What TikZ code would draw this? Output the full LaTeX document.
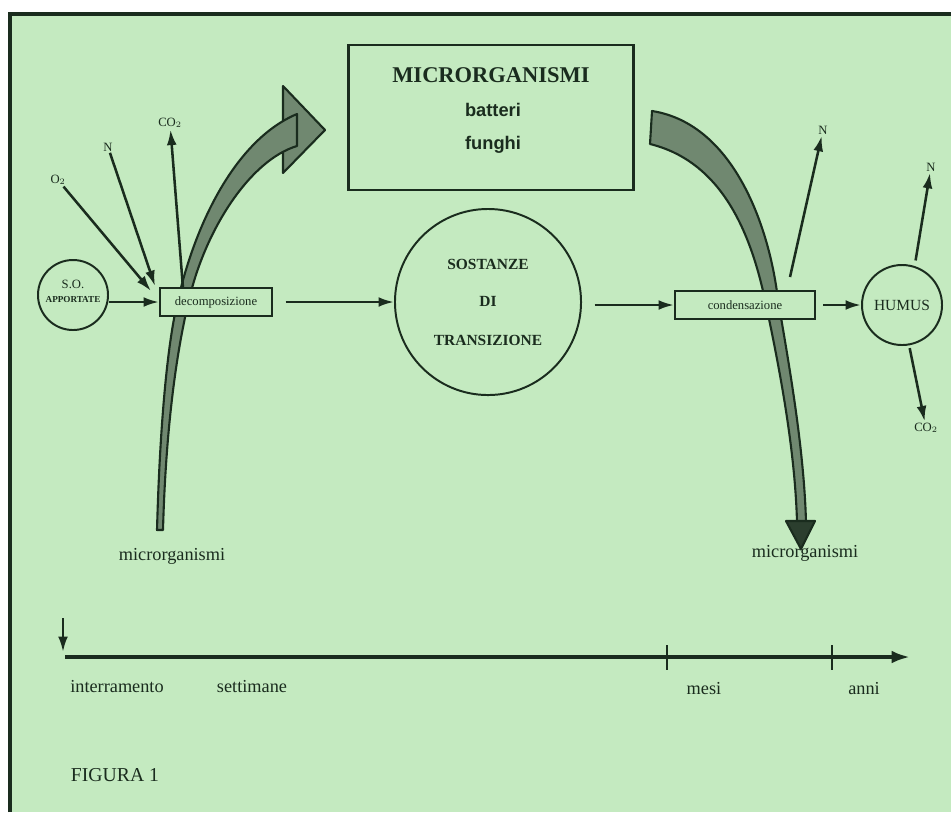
\documentclass[tikz,border=0pt]{standalone}
\usepackage{fontspec}
\setmainfont{Liberation Serif}
\newfontfamily\boldsans{Liberation Sans}
\usetikzlibrary{arrows.meta}

\definecolor{paper}{RGB}{196,234,192}
\definecolor{ink}{RGB}{26,44,30}
\definecolor{bandfill}{RGB}{112,136,112}

\tikzset{
  conn/.style={-{Latex[length=11pt,width=7pt]}, line width=1.8pt},
  procbox/.style={draw, fill=paper, line width=1.4pt, minimum width=2.8cm, minimum height=0.7cm, inner sep=1pt, font=\fontsize{9}{10}\selectfont},
  ring/.style={draw, circle, line width=1.4pt, inner sep=0pt},
  gas/.style={inner sep=1pt, font=\fontsize{9}{10}\selectfont},
  band/.style={fill=bandfill, draw=ink, line width=1.5pt, line join=round},
  timelab/.style={anchor=base, font=\fontsize{13}{14}\selectfont}
}

\begin{document}
\begin{tikzpicture}[x=0.025cm, y=-0.025cm, ink]
    \useasboundingbox (0,0) rectangle (951,812);
    \fill[white] (0,0) rectangle (951,812);
    \fill[paper] (10,14) rectangle (951,812);
    \draw[line width=2.2pt] (10,812) -- (10,14) -- (951,14);

    % left band arrow
    \draw[band] (283,86) -- (325,130) -- (283,173) -- cycle;
    \draw[band] (157,530) .. controls (160,420) and (168,340) .. (178,300)
        .. controls (195,225) and (235,140) .. (297,114) -- (297,146)
        .. controls (250,160) and (205,230) .. (189,300)
        .. controls (178,345) and (166,420) .. (163,530) -- cycle;

    % right band arrow
    \draw[band] (652,111) .. controls (735,124) and (770,230) .. (778,300)
        .. controls (790,370) and (804,450) .. (806,522) -- (797,522)
        .. controls (795,450) and (780,370) .. (765,300)
        .. controls (748,220) and (715,160) .. (650,144) -- cycle;
    \draw[band, fill=ink!80!bandfill] (786,521) -- (815,521) -- (801,549) -- cycle;

    % main chain
    \node[ring, minimum size=1.75cm] (so) at (73,295) {};
    \node[font=\fontsize{9}{10}\selectfont] (sotxt) at (73,284) {S.O.};
    \node[font=\bfseries\fontsize{6.5}{7}\selectfont, inner sep=0pt] (sotxt2) at (73,300) {APPORTATE};
    \node[procbox] (dec) at (216,302) {decomposizione};
    \node[ring, minimum size=4.65cm] (sost) at (488,302) {};
    \node[font=\bfseries\fontsize{11}{12}\selectfont] (s1) at (488,264) {SOSTANZE};
    \node[font=\bfseries\fontsize{11}{12}\selectfont] (s2) at (488,301) {DI};
    \node[font=\bfseries\fontsize{11}{12}\selectfont] (s3) at (488,340) {TRANSIZIONE};
    \node[procbox, minimum width=3.5cm, minimum height=0.72cm] (cond) at (745,305) {condensazione};
    \node[ring, minimum size=2cm, font=\fontsize{11}{12}\selectfont] (humus) at (902,305) {HUMUS};

    \draw[conn] (so.east |- dec) -- (dec);
    \draw[conn, shorten <=9pt] (dec) -- (sost);
    \draw[conn, shorten <=9pt] (sost.east |- cond) -- (cond);
    \draw[conn, shorten <=5pt] (cond) -- (humus);

    % gases
    \node[gas] (o2) at (58,180) {O$_2$};
    \node[gas] (nin) at (108,147) {N};
    \node[gas] (co2a) at (170,123) {CO$_2$};
    \coordinate (decin1) at (151,291);
    \coordinate (decin2) at (155,286);
    \coordinate (decout) at (183,288);
    \draw[conn] (o2) -- (decin1);
    \draw[conn] (nin) -- (decin2);
    \draw[conn] (decout) -- (co2a);

    \node[gas] (ncond) at (823,130) {N};
    \coordinate (condout) at (790,277);
    \draw[conn] (condout) -- (ncond);
    \node[gas] (nhum) at (931,167) {N};
    \node[gas] (co2h) at (926,428) {CO$_2$};
    \draw[conn, shorten <=4pt] (humus.72) -- (nhum);
    \draw[conn, shorten <=2pt] (humus.-80) -- (co2h);

    % microrganismi box
    \node[draw, line width=2pt, minimum width=7.12cm, minimum height=3.62cm] (micro) at (491,117.5) {};
    \node[font=\bfseries\fontsize{16}{18}\selectfont] (m1) at (491,75) {MICRORGANISMI};
    \node[font=\boldsans\bfseries\fontsize{13}{14}\selectfont] (m2) at (493,110) {batteri};
    \node[font=\boldsans\bfseries\fontsize{13}{14}\selectfont] (m3) at (493,145) {funghi};

    \node[font=\fontsize{13}{14}\selectfont] (mleft) at (172,556) {microrganismi};
    \node[font=\fontsize{13}{14}\selectfont] (mright) at (805,553) {microrganismi};

    % time axis
    \coordinate (t0) at (65,657);
    \coordinate (t1) at (910,657);
    \draw[-{Latex[length=13pt,width=9pt]}, line width=2.6pt] (t0) -- (t1);
    \foreach \tx in {667,832}
        \draw[line width=1.5pt] (\tx,645) -- (\tx,670);
    \coordinate (bur) at (63,618);
    \draw[conn] (bur) -- (63,652);
    \node[timelab] (tint) at (117,692) {interramento};
    \node[timelab] (tset) at (252,692) {settimane};
    \node[timelab] (tmes) at (704,694) {mesi};
    \node[timelab] (tann) at (864,694) {anni};

    \node[font=\fontsize{14}{15}\selectfont] (fig) at (115,775) {FIGURA 1};
\end{tikzpicture}
\end{document}
